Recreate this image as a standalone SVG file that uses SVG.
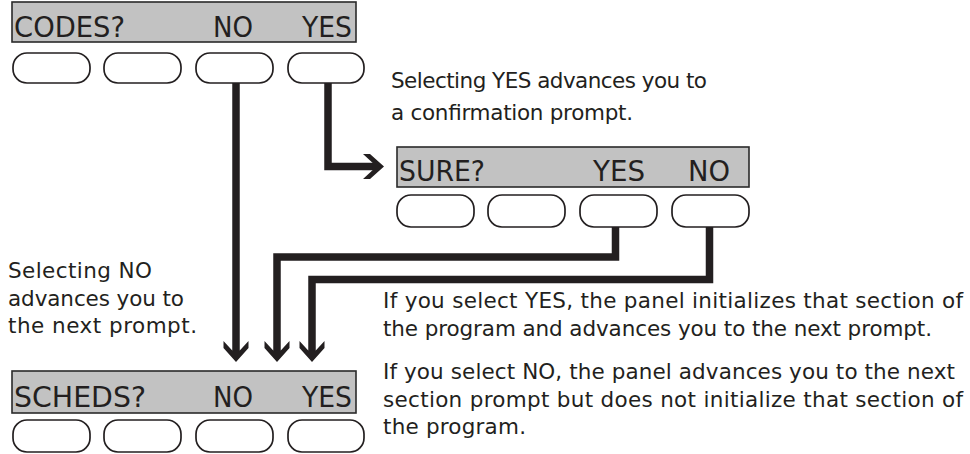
<svg xmlns="http://www.w3.org/2000/svg" width="970" height="454" viewBox="0 0 970 454">
<style>
.lcd{fill:#c2c2c2;stroke:#2a2a2a;stroke-width:1.6}
.btn{fill:#ffffff;stroke:#231f20;stroke-width:1.7}
.lt{font-family:"DejaVu Sans Condensed","DejaVu Sans",sans-serif;font-size:29px;fill:#231f20}
.bt{font-family:"DejaVu Sans",sans-serif;font-size:21.5px;fill:#231f20}
.wire{fill:none;stroke:#231f20;stroke-width:7.5;stroke-linejoin:miter;stroke-linecap:butt}
</style>
<defs>
<marker id="ah" markerUnits="userSpaceOnUse" orient="auto" viewBox="-12 -14 26 28" markerWidth="26" markerHeight="28" refX="0" refY="0">
<path d="M11,0 L-3,-12.5 L-10,-12.5 L-0.5,-3.75 L-0.5,3.75 L-10,12.5 L-3,12.5 Z" fill="#231f20"/>
</marker>
</defs>
<g id="codes">
<rect class="lcd" x="12" y="2" width="344" height="40"/>
<text class="lt" x="14" y="37" textLength="111" lengthAdjust="spacingAndGlyphs">CODES?</text>
<text class="lt" x="213" y="37" textLength="40" lengthAdjust="spacingAndGlyphs">NO</text>
<text class="lt" x="302" y="37" textLength="50" lengthAdjust="spacingAndGlyphs">YES</text>
<rect class="btn" x="13" y="53" width="77" height="30" rx="14" ry="14"/>
<rect class="btn" x="104" y="53" width="77" height="30" rx="14" ry="14"/>
<rect class="btn" x="196" y="53" width="77" height="30" rx="14" ry="14"/>
<rect class="btn" x="288" y="53" width="76" height="30" rx="14" ry="14"/>
</g>
<g id="sure">
<rect class="lcd" x="397" y="147" width="352" height="40"/>
<text class="lt" x="399" y="181" textLength="86" lengthAdjust="spacingAndGlyphs">SURE?</text>
<text class="lt" x="593" y="181" textLength="52" lengthAdjust="spacingAndGlyphs">YES</text>
<text class="lt" x="688" y="181" textLength="42" lengthAdjust="spacingAndGlyphs">NO</text>
<rect class="btn" x="397" y="195" width="77" height="32" rx="14" ry="14"/>
<rect class="btn" x="488" y="195" width="77" height="32" rx="14" ry="14"/>
<rect class="btn" x="580" y="195" width="77" height="32" rx="14" ry="14"/>
<rect class="btn" x="672" y="195" width="77" height="32" rx="14" ry="14"/>
</g>
<g id="scheds">
<rect class="lcd" x="12" y="371" width="344" height="42"/>
<text class="lt" x="14" y="407" textLength="132" lengthAdjust="spacingAndGlyphs">SCHEDS?</text>
<text class="lt" x="213" y="407" textLength="40" lengthAdjust="spacingAndGlyphs">NO</text>
<text class="lt" x="302" y="407" textLength="50" lengthAdjust="spacingAndGlyphs">YES</text>
<rect class="btn" x="13" y="420" width="77" height="32" rx="14" ry="14"/>
<rect class="btn" x="104" y="420" width="77" height="32" rx="14" ry="14"/>
<rect class="btn" x="196" y="420" width="77" height="32" rx="14" ry="14"/>
<rect class="btn" x="288" y="420" width="76" height="32" rx="14" ry="14"/>
</g>
<g id="connectors">
<path class="wire" d="M236,83 V351" marker-end="url(#ah)"/>
<path class="wire" d="M328,83 V166.5 H373" marker-end="url(#ah)"/>
<path class="wire" d="M615.5,227 V257 H277 V351" marker-end="url(#ah)"/>
<path class="wire" d="M709.5,227 V279.5 H312 V351" marker-end="url(#ah)"/>
</g>
<g id="notes">
<text class="bt" x="391" y="88" textLength="316" lengthAdjust="spacing">Selecting YES advances you to</text>
<text class="bt" x="391" y="120" textLength="242" lengthAdjust="spacing">a confirmation prompt.</text>
<text class="bt" x="8" y="278" textLength="144" lengthAdjust="spacing">Selecting NO</text>
<text class="bt" x="8" y="306" textLength="176" lengthAdjust="spacing">advances you to</text>
<text class="bt" x="8" y="333" textLength="189" lengthAdjust="spacing">the next prompt.</text>
<text class="bt" x="383" y="308" textLength="580" lengthAdjust="spacing">If you select YES, the panel initializes that section of</text>
<text class="bt" x="383" y="336" textLength="549" lengthAdjust="spacing">the program and advances you to the next prompt.</text>
<text class="bt" x="383" y="379" textLength="572" lengthAdjust="spacing">If you select NO, the panel advances you to the next</text>
<text class="bt" x="383" y="407" textLength="580" lengthAdjust="spacing">section prompt but does not initialize that section of</text>
<text class="bt" x="383" y="434" textLength="143" lengthAdjust="spacing">the program.</text>
</g>
</svg>
